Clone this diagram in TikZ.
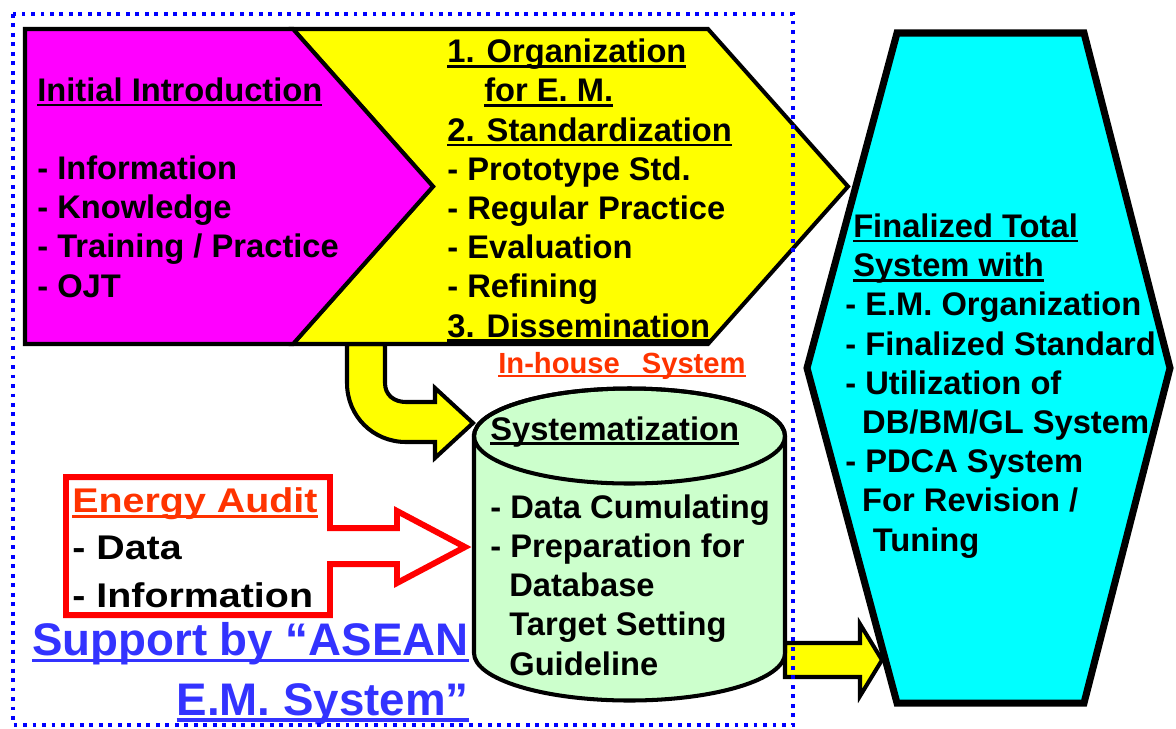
\documentclass[tikz,border=0pt]{standalone}
\usepackage{fontspec}
\setmainfont{Liberation Sans}
\newfontfamily\widefont[FakeStretch=1.15]{Liberation Sans}
\usepackage{tikz}

\definecolor{emyellow}{HTML}{FFFF00}
\definecolor{emmagenta}{HTML}{FF00FF}
\definecolor{emcyan}{HTML}{00FFFF}
\definecolor{emgreen}{HTML}{CCFFCC}
\definecolor{emred}{HTML}{FF0000}
\definecolor{emorange}{HTML}{FF3300}
\definecolor{emblue}{HTML}{3333FF}
\definecolor{emdots}{HTML}{0000FF}

\newcommand\undl[1]{\setbox0\hbox{#1}\rlap{\rule[-0.15em]{\wd0}{0.075em}}\box0}

\begin{document}
\begin{tikzpicture}[x=0.02cm,y=-0.02cm,
  outline/.style={draw=black,line width=2.3pt,line join=miter},
  txt/.style={inner sep=0pt,align=left,anchor=base west,
    font=\bfseries\fontsize{18.6}{22.3}\selectfont}]
\useasboundingbox (0,0) rectangle (1176,728);

% bent arrow down to the database
\draw[outline,fill=emyellow] (347,344) -- (347,383) .. controls (347,416) and (373,442) .. (406,442)
  -- (435,442) -- (435,458) -- (473,423) -- (435,388) -- (435,402) -- (406,402)
  .. controls (394,402) and (385,395) .. (385,383) -- (385,344) -- cycle;

% the two stages
\draw[outline,fill=emyellow] (293,29) -- (708,29) -- (848,186.5) -- (708,344) -- (293,344) -- (433,186.5) -- cycle;
\draw[outline,fill=emmagenta] (25,29) -- (293,29) -- (433,186.5) -- (293,344) -- (25,344) -- cycle;

% final system
\draw[line width=4pt,fill=emcyan] (897,33) -- (1084,33) -- (1170,368) -- (1084,703) -- (897,703) -- (807,368) -- cycle;
\draw[outline,fill=emyellow] (785,643) -- (860,643) -- (860,624) -- (882,660) -- (860,696) -- (860,677) -- (785,677) -- cycle;

% database cylinder
\draw[outline,fill=emgreen] (474,436) -- (474,653)
  arc[start angle=180,end angle=0,x radius=155.5,y radius=47.5] -- (785,436)
  arc[start angle=0,end angle=-180,x radius=155.5,y radius=47.5] -- cycle;
\draw[outline] (629.5,436) ellipse[x radius=155.5,y radius=47.5];

% energy audit
\draw[draw=emred,line width=3.4pt,fill=white,line join=miter] (66,477) -- (330,477) -- (330,528) -- (397,528)
  -- (397,511) -- (465,547) -- (397,583) -- (397,564) -- (330,564) -- (330,615) -- (66,615) -- cycle;

% multi-line nodes sit on their last baseline
\node[txt] (intro) at (37,297) {\undl{Initial Introduction}\\[22.3pt]
  - Information\\- Knowledge\\- Training / Practice\\- OJT};
\node[txt] (stages) at (447,337) {\undl{1. Organization}\\\hspace*{21pt}\undl{for E. M.}\\
  \undl{2. Standardization}\\- Prototype Std.\\- Regular Practice\\- Evaluation\\- Refining\\
  \undl{3. Dissemination}};
\node[txt] (final) at (845,551) {\hspace*{4.5pt}\undl{Finalized Total}\\\hspace*{4.5pt}\undl{System with}\\
  - E.M. Organization\\- Finalized Standard\\- Utilization of\\\hspace*{9.6pt}DB/BM/GL System\\
  - PDCA System\\\hspace*{9.6pt}For Revision /\\\hspace*{15.6pt}Tuning};
\node[txt,text=emorange,font=\bfseries\fontsize{16.6}{20}\selectfont] (inhouse) at (498,373)
  {\undl{In-house\hspace{12.5pt}System}};
\node[txt] (systitle) at (490,440) {\undl{Systematization}};
\node[txt] (syslist) at (490,675) {- Data Cumulating\\- Preparation for\\
  \hspace*{10.8pt}Database\\\hspace*{10.8pt}Target Setting\\\hspace*{10.8pt}Guideline};
\node[txt,font=\widefont\bfseries\fontsize{19.5}{26.9}\selectfont] (audit) at (72,607)
  {\textcolor{emorange}{\undl{Energy Audit}}\\- Data\\- Information};
\node[txt,align=right,anchor=base east,text=emblue,font=\bfseries\fontsize{26}{34}\selectfont] (support) at (469,715)
  {\undl{Support by “ASEAN}\\\undl{E.M. System”}};

\draw[draw=emdots,line width=2.2pt,dash pattern=on 2.2pt off 3.2pt] (13,14) rectangle (793,725);
\end{tikzpicture}
\end{document}
